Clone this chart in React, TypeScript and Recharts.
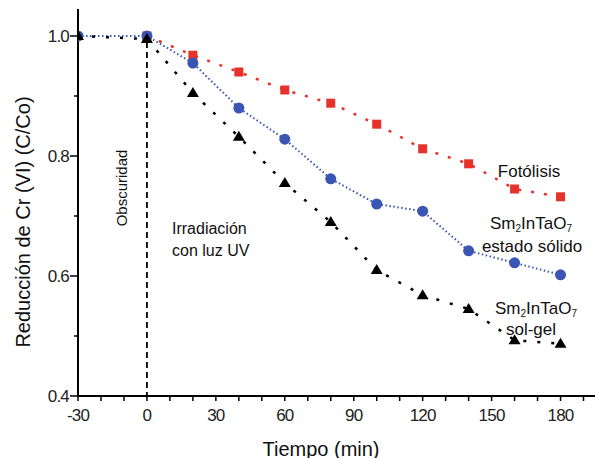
import React from 'react';
import { ComposedChart, Line, XAxis, YAxis, ReferenceLine } from 'recharts';

// Tiempo (min)
const tiempo = [-30, 0, 20, 40, 60, 80, 100, 120, 140, 160, 180];
// C/Co por serie
const fotolisis = [null, 1.0, 0.968, 0.94, 0.91, 0.888, 0.853, 0.812, 0.787, 0.745, 0.732];
const estadoSolido = [1.0, 1.0, 0.955, 0.88, 0.828, 0.762, 0.72, 0.708, 0.642, 0.622, 0.602];
const solGel = [1.0, 0.995, 0.905, 0.832, 0.755, 0.69, 0.61, 0.568, 0.545, 0.493, 0.487];

const xTicks = [-30, -20, -10, 0, 10, 20, 30, 40, 50, 60, 70, 80, 90, 100, 110, 120, 130, 140, 150, 160, 170, 180, 190];
const xMajor = [-30, 0, 30, 60, 90, 120, 150, 180];
const yTicks = [0.4, 0.5, 0.6, 0.7, 0.8, 0.9, 1.0];
const yMajor = [0.4, 0.6, 0.8, 1.0];

const data = tiempo.map((t, i) => ({
  t,
  foto: fotolisis[i],
  solido: estadoSolido[i],
  solgel: solGel[i],
}));

const FONT = '"Liberation Sans", Arial, Helvetica, sans-serif';
const RED = '#e5332b';
const BLUE = '#3a55b3';

const XTick = (props: any) => {
  const { x, y, payload } = props;
  const major = xMajor.includes(payload.value);
  return (
    <g>
      <line x1={x} y1={y} x2={x} y2={y + 5} stroke="#000" strokeWidth={1.5} />
      {major && (
        <text x={x} y={y + 25} textAnchor="middle" fontSize={17} fontFamily={FONT} letterSpacing={-0.8} fill="#222">
          {payload.value}
        </text>
      )}
    </g>
  );
};

const YTick = (props: any) => {
  const { x, y, payload } = props;
  const major = yMajor.some((v) => Math.abs(v - payload.value) < 1e-6);
  return (
    <g>
      <line x1={x - (major ? 8 : 4)} y1={y} x2={x} y2={y} stroke="#000" strokeWidth={1.5} />
      {major && (
        <text x={x - 9} y={y + 6} textAnchor="end" fontSize={17} fontFamily={FONT} letterSpacing={-0.8} fill="#222">
          {Number(payload.value).toFixed(1)}
        </text>
      )}
    </g>
  );
};

const SquareDot = (props: any) => {
  const { cx, cy, index } = props;
  if (cx == null || cy == null) return <g key={`s-${index}`} />;
  return <rect key={`s-${index}`} x={cx - 4.5} y={cy - 4.5} width={9} height={9} fill={RED} />;
};

const CircleDot = (props: any) => {
  const { cx, cy, index } = props;
  if (cx == null || cy == null) return <g key={`c-${index}`} />;
  return <circle key={`c-${index}`} cx={cx} cy={cy} r={5.5} fill={BLUE} />;
};

const TriangleDot = (props: any) => {
  const { cx, cy, index } = props;
  if (cx == null || cy == null) return <g key={`t-${index}`} />;
  return (
    <path
      key={`t-${index}`}
      d={`M${cx},${cy - 6} L${cx + 6},${cy + 4} L${cx - 6},${cy + 4} Z`}
      fill="#000"
    />
  );
};

// Sm2InTaO7 with subscripts
const Formula = ({ x, y }: { x: number; y: number }) => (
  <text x={x} y={y} textAnchor="middle" fontSize={17}>
    Sm<tspan fontSize={10} dy={3}>2</tspan>
    <tspan dy={-3}>InTaO</tspan>
    <tspan fontSize={10} dy={3}>7</tspan>
  </text>
);

export default function App() {
  return (
    <div style={{ position: 'absolute', left: 0, top: 0, width: 596, height: 458, background: '#fff' }}>
      <ComposedChart width={596} height={458} data={data} margin={{ top: 9, right: 1, left: 18, bottom: 32 }}>
        <XAxis
          type="number"
          dataKey="t"
          domain={[-30, 195]}
          ticks={xTicks}
          interval={0}
          allowDataOverflow
          height={30}
          tickSize={0}
          tickMargin={0}
          tickLine={false}
          axisLine={{ stroke: '#000', strokeWidth: 2 }}
          tick={<XTick />}
        />
        <YAxis
          type="number"
          domain={[0.4, 1.045]}
          ticks={yTicks}
          interval={0}
          allowDataOverflow
          width={60}
          tickSize={0}
          tickMargin={0}
          tickLine={false}
          axisLine={{ stroke: '#000', strokeWidth: 2 }}
          tick={<YTick />}
        />
        <ReferenceLine
          segment={[{ x: 0, y: 0.99 }, { x: 0, y: 0.4 }]}
          stroke="#000"
          strokeWidth={1.8}
          strokeDasharray="6 4"
        />
        <Line
          dataKey="foto"
          stroke={RED}
          strokeWidth={2.5}
          strokeDasharray="3 10"
          dot={<SquareDot />}
          isAnimationActive={false}
          connectNulls
        />
        <Line
          dataKey="solido"
          stroke={BLUE}
          strokeWidth={2}
          strokeDasharray="1.5 2.5"
          dot={<CircleDot />}
          isAnimationActive={false}
        />
        <Line
          dataKey="solgel"
          stroke="#000"
          strokeWidth={2.5}
          strokeDasharray="3 11"
          dot={<TriangleDot />}
          isAnimationActive={false}
        />
      </ComposedChart>
      <svg
        width={596}
        height={458}
        style={{ position: 'absolute', left: 0, top: 0, pointerEvents: 'none' }}
        fontFamily={FONT}
        fill="#111"
      >
        <text transform="translate(30,222) rotate(-90)" textAnchor="middle" fontSize={20}>
          Reducción de Cr (VI)  (C/Co)
        </text>
        <text x={321} y={456} textAnchor="middle" fontSize={20}>
          Tiempo (min)
        </text>
        <text transform="translate(127,188) rotate(-90)" textAnchor="middle" fontSize={15}>
          Obscuridad
        </text>
        <text x={172} y={234} fontSize={16}>Irradiación</text>
        <text x={172} y={256} fontSize={16}>con luz UV</text>
        <text x={529} y={177} textAnchor="middle" fontSize={17}>Fotólisis</text>
        <Formula x={531} y={229} />
        <text x={532} y={252} textAnchor="middle" fontSize={17}>estado sólido</text>
        <Formula x={536} y={314} />
        <text x={531} y={335} textAnchor="middle" fontSize={17}>sol-gel</text>
      </svg>
    </div>
  );
}
